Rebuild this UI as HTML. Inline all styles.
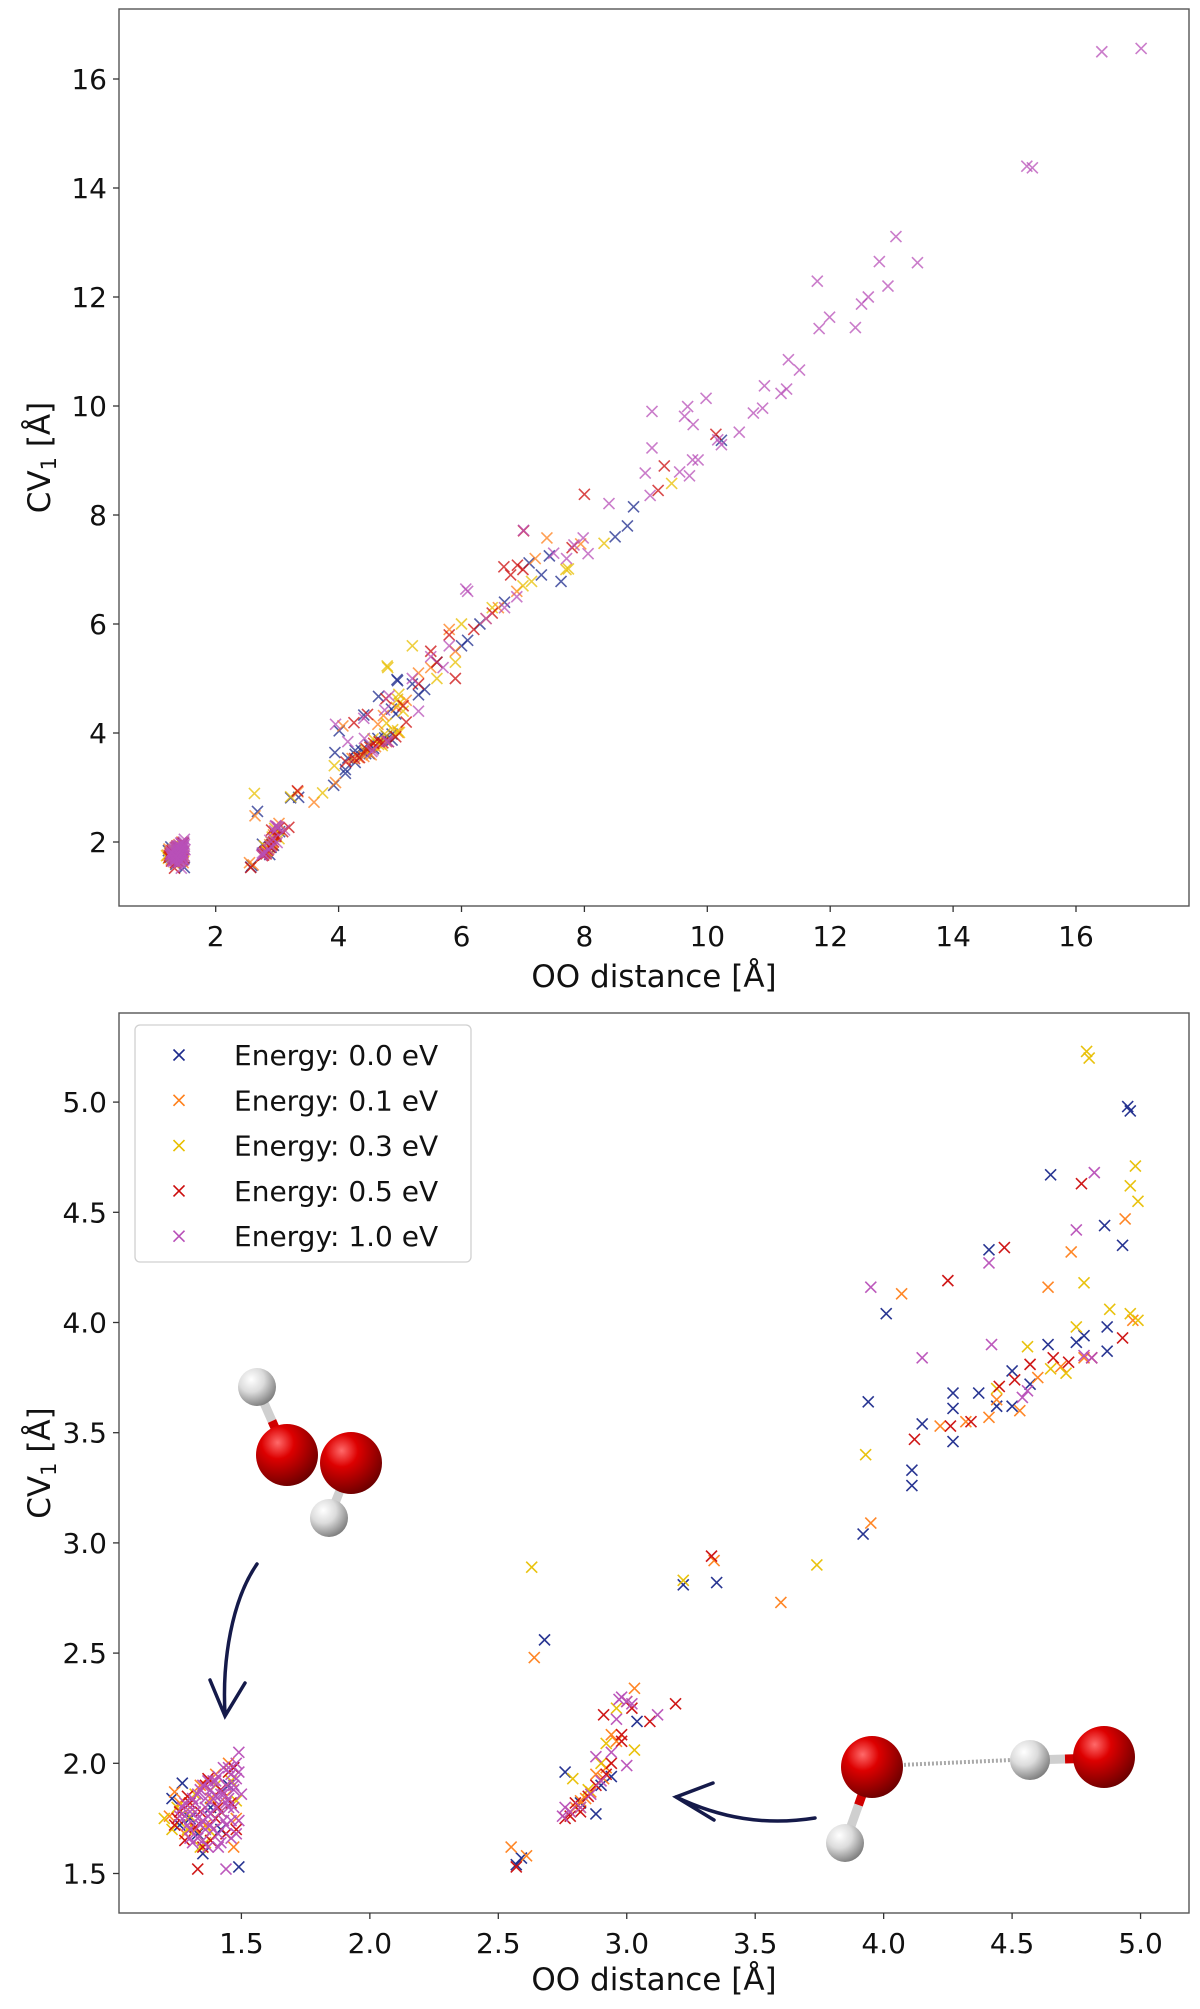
<!DOCTYPE html>
<html><head><meta charset="utf-8">
<style>
html,body{margin:0;padding:0;background:#fff;}
svg{display:block;font-family:"DejaVu Sans","Liberation Sans",sans-serif;}
</style></head>
<body>
<svg id="fig" width="1200" height="2009" viewBox="0 0 1200 2009" xmlns="http://www.w3.org/2000/svg">
<defs>
<radialGradient id="gO" cx="0.35" cy="0.3" r="0.75"><stop offset="0" stop-color="#ff6a6a"/><stop offset="0.35" stop-color="#dd0000"/><stop offset="1" stop-color="#6a0000"/></radialGradient>
<radialGradient id="gH" cx="0.35" cy="0.3" r="0.75"><stop offset="0" stop-color="#ffffff"/><stop offset="0.45" stop-color="#dcdcdc"/><stop offset="1" stop-color="#7a7a7a"/></radialGradient>
<clipPath id="clipTop"><rect x="119" y="9" width="1070" height="897"/></clipPath>
<clipPath id="clipBot"><rect x="119" y="1013" width="1070" height="900"/></clipPath>
</defs>
<g id="top"></g>
<g id="bot"></g>
</svg>
<script>
// ---- data (OO distance, CV1) per energy ----
const energyLabels = ["Energy: 0.0 eV","Energy: 0.1 eV","Energy: 0.3 eV","Energy: 0.5 eV","Energy: 1.0 eV"];
const e00_x = [4.95,4.96,4.65,4.86,4.93,4.41,4.01,3.94,4.15,4.11,4.11,4.27,4.27,4.27,4.37,4.44,4.5,4.5,4.64,4.75,4.78,4.87,4.87,4.57,3.92,3.22,3.35,2.68,2.57,2.59,2.76,2.88,2.94,3.04,1.27,1.35,1.49,1.23,1.3,1.38,1.45,1.42,1.33,1.47,1.26,1.4,2.82,2.9,5.2,5.6,6.0,6.3,6.7,7.3,5.3,5.4,6.1,8.8,8.7,8.5,10.23,7.62,7.43,7.1];
const e00_y = [4.98,4.96,4.67,4.44,4.35,4.33,4.04,3.64,3.54,3.33,3.26,3.68,3.61,3.46,3.68,3.62,3.62,3.78,3.9,3.91,3.94,3.98,3.87,3.72,3.04,2.81,2.82,2.56,1.54,1.57,1.96,1.77,1.94,2.19,1.91,1.59,1.53,1.84,1.75,1.8,1.9,1.7,1.68,1.98,1.72,1.85,1.82,1.9,4.9,5.3,5.6,6.0,6.4,6.9,4.7,4.8,5.7,8.15,7.8,7.6,9.37,6.78,7.25,7.12];
const e01_x = [4.94,4.73,4.64,4.07,4.97,3.95,3.6,3.34,2.64,2.55,2.61,4.22,4.32,4.41,4.53,4.6,4.69,4.78,4.44,3.03,2.94,2.82,2.86,2.91,1.47,1.24,1.3,1.36,1.44,1.4,1.28,1.48,1.34,1.22,1.45,1.32,1.38,1.26,2.78,2.84,2.88,2.96,3.0,2.8,2.92,5.1,5.5,5.9,6.4,6.9,7.2,5.3,6.6,5.8,7.39,7.94];
const e01_y = [4.47,4.32,4.16,4.13,4.01,3.09,2.73,2.92,2.48,1.62,1.58,3.53,3.55,3.57,3.6,3.75,3.8,3.84,3.65,2.34,2.13,1.83,1.87,1.93,1.62,1.87,1.8,1.72,1.85,1.95,1.68,1.75,1.9,1.76,2.0,1.7,1.84,1.82,1.78,1.84,1.95,2.1,2.28,1.8,1.98,4.6,5.2,5.5,6.1,6.6,7.2,5.1,6.3,5.9,7.58,7.47];
const e03_x = [4.79,4.98,4.96,4.99,4.78,4.96,4.99,4.88,4.75,4.56,4.44,4.71,3.93,3.74,3.22,2.63,3.03,2.79,2.92,4.65,1.2,1.36,1.25,1.32,1.42,1.38,1.29,1.46,1.48,1.34,1.23,1.3,1.4,2.85,2.9,2.96,2.82,5.2,4.8,5.6,6.0,6.5,7.0,5.9,7.7,5.05,9.42,8.32,7.74,7.14];
const e03_y = [5.23,4.71,4.62,4.55,4.18,4.04,4.01,4.06,3.98,3.89,3.7,3.77,3.4,2.9,2.83,2.89,2.06,1.93,2.09,3.79,1.75,1.64,1.8,1.86,1.78,1.69,1.7,1.92,1.83,1.62,1.7,1.76,1.9,1.88,2.0,2.25,1.8,5.6,5.2,5.0,6.0,6.3,6.7,5.3,7.0,4.4,8.58,7.48,7.01,6.78];
const e05_x = [4.77,4.47,4.25,3.33,4.12,4.26,4.34,4.45,4.51,4.57,4.66,4.72,4.81,4.93,3.19,3.09,2.91,2.98,2.82,2.76,2.57,1.33,1.24,1.3,1.36,1.4,1.45,1.28,1.48,1.34,1.42,1.26,1.38,1.46,1.32,1.44,1.29,1.37,1.41,1.47,1.35,1.25,2.78,2.85,2.88,2.94,3.02,2.8,2.92,2.98,5.05,5.3,5.6,5.8,6.2,6.8,7.0,6.5,5.5,5.9,7.8,5.1,10.14,9.3,9.2,8.0,7.01,6.69,6.91];
const e05_y = [4.63,4.34,4.19,2.94,3.47,3.53,3.55,3.71,3.74,3.81,3.84,3.82,3.84,3.93,2.27,2.19,2.22,2.13,1.78,1.75,1.53,1.52,1.72,1.82,1.9,1.75,1.96,1.65,1.7,1.78,1.88,1.78,1.65,1.82,1.71,1.68,1.85,1.93,1.8,1.98,1.62,1.75,1.76,1.85,1.9,2.0,2.25,1.82,1.95,2.1,4.5,4.9,5.3,5.8,5.9,6.9,7.0,6.2,5.5,5.0,7.4,4.2,9.48,8.9,8.45,8.38,7.71,7.05,7.08];
const e10_x = [4.82,4.75,4.41,3.95,4.15,4.42,4.56,4.54,4.81,4.78,2.94,2.97,3.0,2.88,3.0,3.12,2.76,1.44,1.3,1.33,1.36,1.38,1.4,1.42,1.44,1.46,1.48,1.49,1.35,1.32,1.39,1.41,1.45,1.47,1.28,1.37,1.43,1.34,1.46,1.31,1.4,1.48,1.36,1.42,1.38,1.44,1.3,1.27,1.29,1.31,1.33,1.35,1.37,1.39,1.41,1.43,1.45,1.47,1.49,1.5,1.48,1.46,1.44,1.42,1.4,1.38,1.36,1.34,1.32,1.3,1.28,1.26,1.33,1.37,1.41,1.45,1.49,1.47,1.43,1.39,1.35,2.78,2.82,2.86,2.9,2.98,3.02,2.96,2.75,5.2,5.5,5.8,6.1,6.4,6.9,7.5,5.3,5.7,6.7,16.42,17.06,15.2,15.29,13.07,13.42,12.8,11.79,12.94,12.62,12.51,11.99,11.82,12.41,11.32,11.5,10.93,11.29,11.2,10.9,10.75,10.52,9.98,9.68,9.63,9.77,9.1,9.1,8.99,9.07,9.55,9.71,9.76,9.85,10.17,10.23,8.4,7.98,8.06,7.71,7.83,7.01,6.07];
const e10_y = [4.68,4.42,4.27,4.16,3.84,3.9,3.69,3.66,3.84,3.85,2.05,2.29,2.28,2.03,1.99,2.22,1.8,1.52,1.7,1.75,1.8,1.72,1.85,1.78,1.9,1.95,2.0,2.05,1.65,1.82,1.92,1.68,1.84,1.88,1.76,1.62,1.98,1.88,1.74,1.64,1.8,1.93,1.7,1.86,1.77,1.82,1.78,1.8,1.72,1.84,1.66,1.9,1.76,1.84,1.94,1.74,1.98,1.8,1.96,1.86,1.68,1.66,1.72,1.64,1.92,1.88,1.84,1.72,1.78,1.66,1.82,1.76,1.86,1.92,1.62,1.8,1.74,1.9,1.86,1.7,1.74,1.78,1.8,1.86,1.92,2.3,2.27,2.2,1.76,5.0,5.4,5.6,6.6,6.1,6.5,7.3,4.4,5.2,6.3,16.5,16.56,14.4,14.37,13.11,12.63,12.65,12.29,12.2,12.0,11.87,11.63,11.42,11.44,10.85,10.66,10.37,10.31,10.23,9.96,9.87,9.52,10.14,9.99,9.81,9.66,9.9,9.23,8.77,8.36,8.79,8.72,9.01,9.01,9.38,9.29,8.21,7.58,7.29,7.2,7.45,7.72,6.64];
const seriesX = [e00_x,e01_x,e03_x,e05_x,e10_x];
const seriesY = [e00_y,e01_y,e03_y,e05_y,e10_y];
const colors = ["#1c2a8c","#ff7f1a","#e8bf00","#cc0c0c","#b850b8"];
const topXTicks = [2,4,6,8,10,12,14,16];
const topYTicks = [2,4,6,8,10,12,14,16];
const botXTicks = [1.5,2.0,2.5,3.0,3.5,4.0,4.5,5.0];
const botYTicks = [1.5,2.0,2.5,3.0,3.5,4.0,4.5,5.0];
const botMaxX = 5.0;

const NS="http://www.w3.org/2000/svg";
function mk(parent,tag,attrs,text){const e=document.createElementNS(NS,tag);for(const k in attrs)e.setAttribute(k,attrs[k]);if(text!==undefined)e.textContent=text;parent.appendChild(e);return e;}

const topX=v=>215.7+(v-2)*61.45, topY=v=>842-(v-2)*54.5;
const botX=v=>241.4+(v-1.5)*256.9, botY=v=>1873.5-(v-1.5)*220.4;

function cross(g,cx,cy,col,op){
  const s=5.5;
  const p=mk(g,"path",{d:`M${cx-s},${cy-s}L${cx+s},${cy+s}M${cx-s},${cy+s}L${cx+s},${cy-s}`,stroke:col,"stroke-width":1.6,fill:"none",opacity:op});
  
  
}

function drawChart(root,fx,fy,xt,yt,box,clip,op,fmt,xlabelY,maxX){
  const pts=mk(root,"g",{"clip-path":`url(#${clip})`});
  
  
  for(let s=0;s<5;s++){
    const sg=mk(pts,"g",{});
    
    
    for(let i=0;i<seriesX[s].length;i++){
      if(seriesX[s][i]>maxX) continue;
      cross(sg,fx(seriesX[s][i]),fy(seriesY[s][i]),colors[s],op);
    }
  }
  const f=mk(root,"rect",{x:box[0],y:box[1],width:box[2]-box[0],height:box[3]-box[1],fill:"none",stroke:"#555","stroke-width":1.4});
  
  
  const xa=mk(root,"g",{});
  
  
  for(const t of xt){const x=fx(t);
    mk(xa,"line",{x1:x,x2:x,y1:box[3],y2:box[3]+6,stroke:"#333","stroke-width":1.3});
    const tl=mk(xa,"text",{x:x,y:box[3]+40,"font-size":28,"text-anchor":"middle",fill:"#111"},fmt(t));
    
    }
  const ya=mk(root,"g",{});
  
  
  for(const t of yt){const y=fy(t);
    mk(ya,"line",{x1:box[0]-6,x2:box[0],y1:y,y2:y,stroke:"#333","stroke-width":1.3});
    const tl=mk(ya,"text",{x:box[0]-12,y:y+10,"font-size":28,"text-anchor":"end",fill:"#111"},fmt(t));
    
    }
  const xl=mk(root,"text",{x:654,y:xlabelY,"font-size":31,"text-anchor":"middle",fill:"#111"},"OO distance [Å]");
  
  
  const cy=(box[1]+box[3])/2;
  const yl=mk(root,"text",{x:0,y:0,"font-size":31,"text-anchor":"middle",fill:"#111",transform:`translate(50,${cy}) rotate(-90)`});
  
  
  mk(yl,"tspan",{},"CV");
  mk(yl,"tspan",{"font-size":21,dy:6},"1");
  mk(yl,"tspan",{dy:-6}," [Å]");
}

drawChart(document.getElementById("top"),topX,topY,topXTicks,topYTicks,[119,9,1189,906],"clipTop",0.75,t=>String(t),987,Infinity);
drawChart(document.getElementById("bot"),botX,botY,botXTicks,botYTicks,[119,1013,1189,1913],"clipBot",0.95,t=>t.toFixed(1),1990,botMaxX);

const bot=document.getElementById("bot");
const lg=mk(bot,"g",{});


mk(lg,"rect",{x:135,y:1025,width:336,height:237,rx:5,fill:"#fff",stroke:"#ccc","stroke-width":1.3,opacity:0.9});
for(let s=0;s<5;s++){
  const y=1055+s*45.3;
  const e=mk(lg,"g",{});
  
  
  cross(e,179,y,colors[s],1);
  mk(e,"text",{x:234,y:y+10,"font-size":28,fill:"#111"},energyLabels[s]);
}

function molecule(parent,name,bonds,atoms,dashed){
  const g=mk(parent,"g",{});
  
  
  if(dashed) mk(g,"line",{x1:dashed[0],y1:dashed[1],x2:dashed[2],y2:dashed[3],stroke:"#aaa","stroke-width":4,"stroke-dasharray":"2,2"});
  for(const b of bonds){
    const mx=(b[0]+b[2])/2,my=(b[1]+b[3])/2;
    mk(g,"line",{x1:b[0],y1:b[1],x2:mx,y2:my,stroke:"#cfcfcf","stroke-width":9});
    mk(g,"line",{x1:mx,y1:my,x2:b[2],y2:b[3],stroke:"#d00000","stroke-width":9});
  }
  for(const a of atoms) mk(g,"circle",{cx:a[0],cy:a[1],r:a[2],fill:a[3]?"url(#gO)":"url(#gH)"});
}
molecule(bot,"molecule-hooh",[[257,1387,287,1455],[329,1518,351,1463]],[[257,1387,19,0],[287,1455,31,1],[351,1463,31,1],[329,1518,19,0]],null);
molecule(bot,"molecule-oh-h2o",[[845,1843,872,1767],[1030,1760,1100,1758]],[[872,1767,31,1],[845,1843,19,0],[1030,1760,20,0],[1104,1757,31,1]],[900,1765,1012,1760]);

const a1=mk(bot,"path",{d:"M257,1564 C232,1600 222,1660 225,1714 M210,1680 L225,1716 L245,1683",stroke:"#151a4a","stroke-width":3.5,fill:"none","stroke-linecap":"round"});


const a2=mk(bot,"path",{d:"M815,1818 C765,1826 720,1818 676,1797 M713,1783 L676,1797 L714,1820",stroke:"#151a4a","stroke-width":3.5,fill:"none","stroke-linecap":"round"});


</script>
</body></html>
